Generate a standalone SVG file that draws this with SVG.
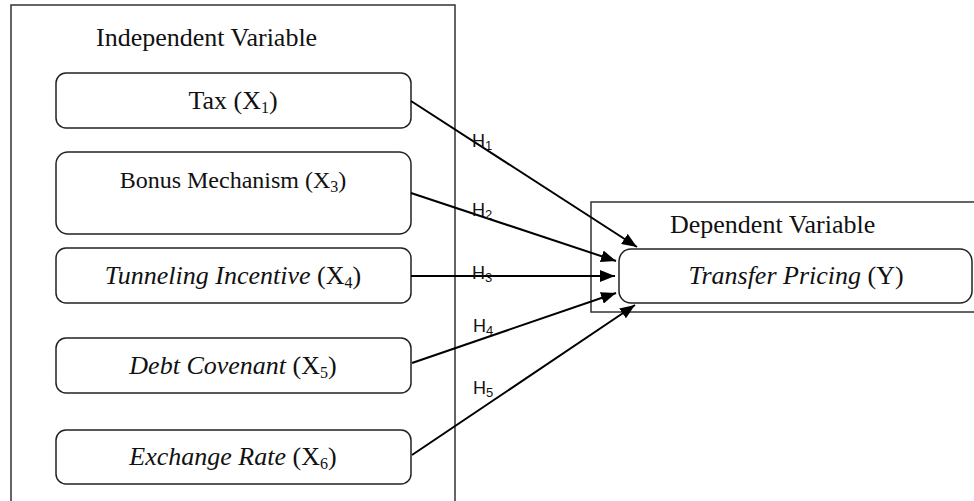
<svg xmlns="http://www.w3.org/2000/svg" width="974" height="501" viewBox="0 0 974 501">
<style>
.frame{fill:#fff;stroke:#333;stroke-width:1.5}
.box{fill:#fff;stroke:#222;stroke-width:1.5}
.t{font-family:"Liberation Serif","Times New Roman",serif;font-size:26px;fill:#111}
.sm{font-size:24px}
.i{font-style:italic}
.h{font-family:"Liberation Sans",Arial,sans-serif;font-size:18px;fill:#111}
.sub{font-size:16px}
.hs{font-size:13px}
.conn{stroke:#000;stroke-width:2;fill:none;marker-end:url(#ah)}
</style>
<defs>
<marker id="ah" markerUnits="userSpaceOnUse" markerWidth="16" markerHeight="12" refX="15" refY="6" orient="auto">
<path d="M0,0 L15,6 L0,12 z" fill="#000"/>
</marker>
</defs>
<g id="independent-frame">
<rect class="frame" x="11" y="5" width="444" height="510"/>
<text class="t" x="96" y="46">Independent Variable</text>
</g>
<g id="dependent-frame">
<rect class="frame" x="591" y="202" width="400" height="110"/>
<text class="t" x="670" y="233">Dependent Variable</text>
</g>
<g id="x1">
<rect class="box" x="56" y="73" width="355" height="55" rx="10"/>
<text class="t" x="233" y="109" text-anchor="middle">Tax (X<tspan class="sub" dy="4">1</tspan><tspan dy="-4">)</tspan></text>
</g>
<g id="x3">
<rect class="box" x="56" y="152" width="355" height="82" rx="12"/>
<text class="t sm" x="233" y="188" text-anchor="middle">Bonus Mechanism (X<tspan class="sub" dy="4">3</tspan><tspan dy="-4">)</tspan></text>
</g>
<g id="x4">
<rect class="box" x="56" y="248" width="355" height="55" rx="10"/>
<text class="t" x="233" y="284" text-anchor="middle"><tspan class="i">Tunneling Incentive</tspan> (X<tspan class="sub" dy="4">4</tspan><tspan dy="-4">)</tspan></text>
</g>
<g id="x5">
<rect class="box" x="56" y="338" width="355" height="55" rx="10"/>
<text class="t" x="233" y="374" text-anchor="middle"><tspan class="i">Debt Covenant</tspan> (X<tspan class="sub" dy="4">5</tspan><tspan dy="-4">)</tspan></text>
</g>
<g id="x6">
<rect class="box" x="56" y="430" width="355" height="54" rx="10"/>
<text class="t" x="233" y="465" text-anchor="middle"><tspan class="i">Exchange Rate</tspan> (X<tspan class="sub" dy="4">6</tspan><tspan dy="-4">)</tspan></text>
</g>
<g id="y">
<rect class="box" x="619" y="249" width="353" height="54" rx="12"/>
<text class="t" x="796" y="284" text-anchor="middle"><tspan class="i">Transfer Pricing</tspan> (Y)</text>
</g>
<g id="connectors">
<line class="conn" x1="411" y1="101" x2="637" y2="247"/>
<line class="conn" x1="411" y1="193" x2="616" y2="261"/>
<line class="conn" x1="411" y1="276" x2="615" y2="276"/>
<line class="conn" x1="412" y1="363" x2="616" y2="293"/>
<line class="conn" x1="412" y1="455" x2="635" y2="305"/>
</g>
<g id="labels">
<text class="h" x="472" y="147">H<tspan class="hs" dy="3">1</tspan></text>
<text class="h" x="472" y="216">H<tspan class="hs" dy="3">2</tspan></text>
<text class="h" x="472" y="279">H<tspan class="hs" dy="3">3</tspan></text>
<text class="h" x="473" y="332">H<tspan class="hs" dy="3">4</tspan></text>
<text class="h" x="473" y="394">H<tspan class="hs" dy="3">5</tspan></text>
</g>
</svg>
